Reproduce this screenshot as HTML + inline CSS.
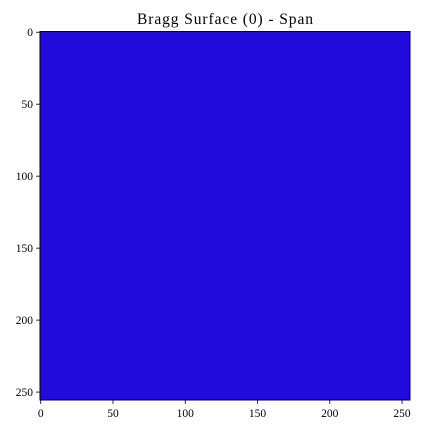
<!DOCTYPE html>
<html><head><meta charset="utf-8"><style>
html,body{margin:0;padding:0;background:#fff;}
svg{display:block;font-family:"Liberation Serif",serif;}
</style></head><body>
<svg width="423" height="434" viewBox="0 0 423 434">
<text x="137" y="24" font-size="15.5" textLength="176" lengthAdjust="spacing">Bragg Surface (0) - Span</text>
<g id="plot"></g>
</svg>
<script>
const xTicks=[0,50,100,150,200,250];
const yTicks=[0,50,100,150,200,250];
const gridRows=[0];
const gridCols=[0];
const cellValues=[[0]];
const L=40,R=410,T=31.5,B=400,N=256;
const sx=v=>L+(v+0.5)/N*(R-L);
const sy=v=>T+(v+0.5)/N*(B-T);
const ns='http://www.w3.org/2000/svg';
const g=document.getElementById('plot');
function mk(t,a){const e=document.createElementNS(ns,t);for(const k in a)e.setAttribute(k,a[k]);g.appendChild(e);return e;}
cellValues.forEach((row,i)=>row.forEach((v,j)=>{
 const r=mk('rect',{x:L,y:T,width:R-L,height:B-T,fill:'#200bdc'});
 
 
}));
const fr=mk('rect',{x:L,y:T,width:R-L,height:B-T,fill:'none',stroke:'#000','stroke-width':1});


xTicks.forEach(v=>{
 const x=sx(v);
 const l=mk('line',{x1:x,x2:x,y1:B,y2:B+4,stroke:'#000','stroke-width':0.8});
 
 
 const t=mk('text',{x:x,y:B+17,'font-size':11.5,'text-anchor':'middle'});
 t.textContent=v;
 
 
});
yTicks.forEach(v=>{
 const y=sy(v);
 const l=mk('line',{x1:L-4,x2:L,y1:y,y2:y,stroke:'#000','stroke-width':0.8});
 
 
 const t=mk('text',{x:L-7,y:y+4,'font-size':11.5,'text-anchor':'end'});
 t.textContent=v;
 
 
});
</script>
</body></html>
